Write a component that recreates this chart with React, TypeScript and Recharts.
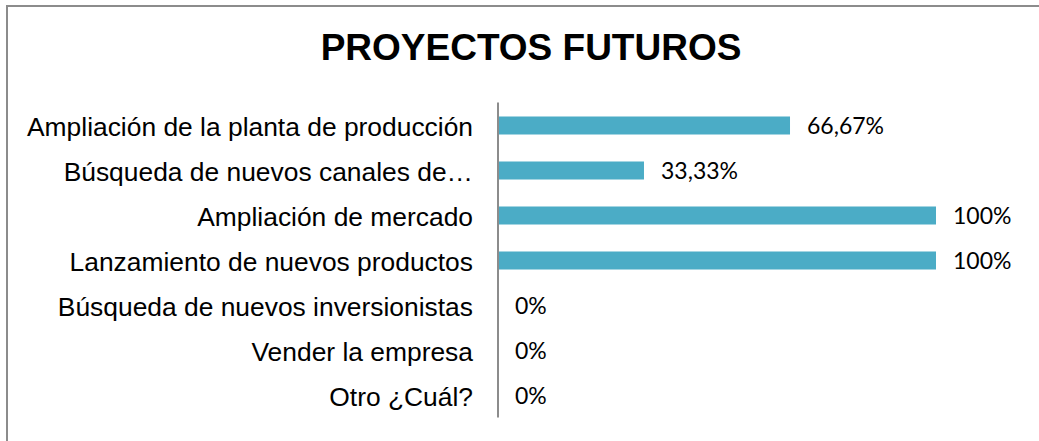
import React from "react";
import { Bar, BarChart, LabelList, XAxis, YAxis } from "recharts";

const categories = [
  "Ampliación de la planta de producción",
  "Búsqueda de nuevos canales de…",
  "Ampliación de mercado",
  "Lanzamiento de nuevos productos",
  "Búsqueda de nuevos inversionistas",
  "Vender la empresa",
  "Otro ¿Cuál?",
];
const shares = [0.6667, 0.3333, 1, 1, 0, 0, 0];

const data = categories.map((name, i) => ({ name, value: shares[i] }));

const fmt = (v: number) => {
  const pct = v * 100;
  if (Math.abs(pct - Math.round(pct)) < 0.001) return `${Math.round(pct)}%`;
  return `${pct.toFixed(2).replace(".", ",")}%`;
};

// draw the value label ourselves so 0% rows still get one
const ValueLabel = (props: any) => {
  const { x, y, width, height, value } = props;
  const bx = Number(x) + Number(width || 0);
  const cy = Number(y) + Number(height || 0) / 2;
  const v = Array.isArray(value) ? value[1] : value;
  return (
    <text
      x={bx + 17}
      y={cy}
      dy="0.35em"
      fill="#000"
      fontSize={23}
      fontFamily="Lato, 'Open Sans', sans-serif"
    >
      {fmt(Number(v))}
    </text>
  );
};

export default function App() {
  return (
    <div style={{ position: "absolute", left: 0, top: 0, width: 1039, height: 441, background: "#fff", overflow: "hidden" }}>
      {/* outer frame, runs off the right and bottom edges */}
      <div
        style={{
          position: "absolute",
          left: 6,
          top: 5,
          width: 1060,
          height: 460,
          border: "2px solid #8c8c8c",
        }}
      />
      <div
        style={{
          position: "absolute",
          left: 0,
          top: 26,
          width: 1062,
          textAlign: "center",
          fontFamily: "'Liberation Sans', Arial, sans-serif",
          fontWeight: "bold",
          fontSize: 37,
          lineHeight: "44px",
          color: "#000",
        }}
      >
        PROYECTOS FUTUROS
      </div>
      <div style={{ position: "absolute", left: 0, top: 0 }}>
        <BarChart
          width={1039}
          height={441}
          data={data}
          layout="vertical"
          margin={{ top: 102.5, right: 103, bottom: 23.5, left: 0 }}
        >
          <XAxis type="number" domain={[0, 1]} hide />
          <YAxis
            type="category"
            dataKey="name"
            width={498}
            axisLine={{ stroke: "#8c8c8c", strokeWidth: 2 }}
            tickLine={false}
            interval={0}
            tickMargin={19}
            tick={{ fill: "#000", fontSize: 26.4, fontFamily: "'Liberation Sans', Arial, sans-serif", dy: 2 }}
          />
          {/* tiny min size keeps zero rows in the label list */}
          <Bar dataKey="value" fill="#4bacc6" barSize={18} minPointSize={0.01} isAnimationActive={false}>
            <LabelList dataKey="value" content={ValueLabel} />
          </Bar>
        </BarChart>
      </div>
    </div>
  );
}
